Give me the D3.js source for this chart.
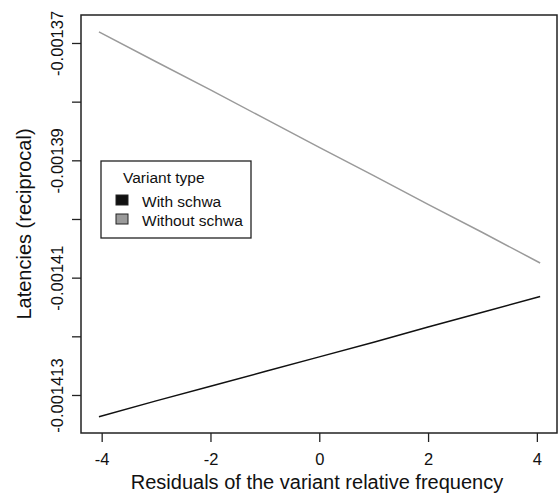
<!DOCTYPE html>
<html>
<head>
<meta charset="utf-8">
<script src="https://cdn.jsdelivr.net/npm/d3@7"></script>
<style>
  body { margin: 0; background: #fff; }
  text { font-family: "Liberation Sans", Arial, sans-serif; fill: #111; }
</style>
</head>
<body>
<div id="chart"></div>
<script>
// data
const xValues = [-4.05, -3, -2, -1, 0, 1, 2, 3, 4.06];
const withSchwa = [-0.0014337, -0.0014310, -0.0014285, -0.0014260, -0.0014235, -0.0014210, -0.0014184, -0.0014159, -0.0014132];
const withoutSchwa = [-0.0013681, -0.0013732, -0.0013780, -0.0013829, -0.0013878, -0.0013926, -0.0013975, -0.0014023, -0.0014075];
const xTicks = [-4, -2, 0, 2, 4];
const yTicks = [-0.00137, -0.00138, -0.00139, -0.00140, -0.00141, -0.00142, -0.00143];
const yTickLabels = ["-0.00137", "", "-0.00139", "", "-0.00141", "", "-0.001413"];
const seriesNames = ["With schwa", "Without schwa"];

const width = 558, height = 496;
const box = {left: 81, right: 557, top: 15, bottom: 433};

const svg = d3.select("#chart")
    .append("svg")
    .attr("width", width)
    .attr("height", height);

const x = d3.scaleLinear()
    .domain([-4.38, 4.37])
    .range([box.left, box.right]);

const y = d3.scaleLinear()
    .domain([-0.00143648, -0.00136523])
    .range([box.bottom, box.top]);

const color = d3.scaleOrdinal()
    .domain(seriesNames)
    .range(["#111111", "#9a9a9a"]);

// plot box
svg.append("rect")
    .attr("x", box.left)
    .attr("y", box.top)
    .attr("width", box.right - box.left)
    .attr("height", box.bottom - box.top)
    .attr("fill", "none")
    .attr("stroke", "#222")
    .attr("stroke-width", 1.5);

// x axis
const xAxis = svg.append("g")
    .attr("transform", "translate(0," + box.bottom + ")")
    .call(d3.axisBottom(x).tickValues(xTicks).tickSize(9).tickSizeOuter(0)
        .tickFormat(d => String(d)));
xAxis.select(".domain").remove();
xAxis.selectAll("line").attr("stroke", "#222").attr("stroke-width", 1.3);
xAxis.selectAll("text")
    .attr("font-size", 16.5)
    .attr("fill", "#111")
    .style("font-family", "'Liberation Sans', Arial, sans-serif")
    .attr("y", 32)
    .attr("dy", 0);

// y axis
const yAxis = svg.append("g")
    .attr("transform", "translate(" + box.left + ",0)")
    .call(d3.axisLeft(y).tickValues(yTicks).tickSize(9).tickSizeOuter(0)
        .tickFormat((d, i) => yTickLabels[i]));
yAxis.select(".domain").remove();
yAxis.selectAll("line").attr("stroke", "#222").attr("stroke-width", 1.3);
yAxis.selectAll("text")
    .attr("font-size", 16.5)
    .attr("fill", "#111")
    .style("font-family", "'Liberation Sans', Arial, sans-serif")
    .attr("x", 0)
    .attr("dy", 0)
    .attr("text-anchor", "middle")
    .attr("transform", "translate(-18,0) rotate(-90)");

// axis titles
svg.append("text")
    .attr("x", (box.left + box.right) / 2 - 2)
    .attr("y", 489)
    .attr("text-anchor", "middle")
    .attr("font-size", 20)
    .text("Residuals of the variant relative frequency");

svg.append("text")
    .attr("transform", "translate(31," + ((box.top + box.bottom) / 2) + ") rotate(-90)")
    .attr("text-anchor", "middle")
    .attr("font-size", 20)
    .text("Latencies (reciprocal)");

// lines
const line = d3.line()
    .x(d => x(d[0]))
    .y(d => y(d[1]));

[withSchwa, withoutSchwa].forEach((vals, i) => {
    svg.append("path")
        .datum(xValues.map((v, j) => [v, vals[j]]))
        .attr("fill", "none")
        .attr("stroke", color(seriesNames[i]))
        .attr("stroke-width", 1.5)
        .attr("d", line);
});

// legend
const legend = svg.append("g");
legend.append("rect")
    .attr("x", 101)
    .attr("y", 161)
    .attr("width", 150)
    .attr("height", 77)
    .attr("fill", "#fff")
    .attr("stroke", "#222")
    .attr("stroke-width", 1.3);
legend.append("text")
    .attr("x", 123)
    .attr("y", 183)
    .attr("font-size", 15.5)
    .text("Variant type");
seriesNames.forEach((name, i) => {
    legend.append("rect")
        .attr("x", 116)
        .attr("y", 195 + i * 19)
        .attr("width", 12)
        .attr("height", 10)
        .attr("fill", color(name))
        .attr("stroke", "#222")
        .attr("stroke-width", 1);
    legend.append("text")
        .attr("x", 142)
        .attr("y", 207 + i * 19)
        .attr("font-size", 15.5)
        .text(name);
});
</script>
</body>
</html>
